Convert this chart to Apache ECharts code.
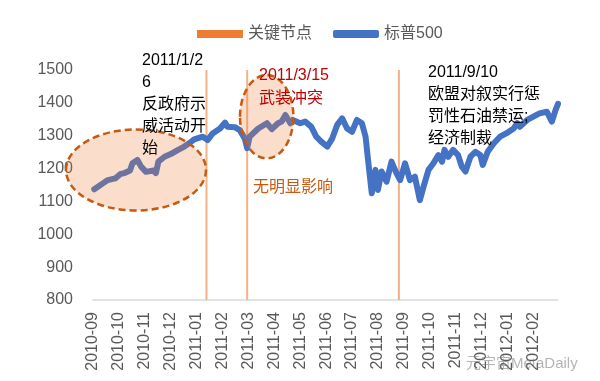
<!DOCTYPE html>
<html>
<head>
<meta charset="utf-8">
<script src="https://cdn.jsdelivr.net/npm/echarts@6/dist/echarts.min.js"></script>
<style>html,body{margin:0;padding:0;background:#fff}#c{width:600px;height:381px}</style>
</head>
<body>
<div id="c"></div>
<script>
// tick labels (one every 21 trading days)
const monthLabels = ['2010-09','2010-10','2010-11','2010-12','2011-01','2011-02','2011-03','2011-04','2011-05','2011-06','2011-07','2011-08','2011-09','2011-10','2011-11','2011-12','2012-01','2012-02'];
const labelStep = 21;
const lastDay = 377;
// S&P 500 (trading-day index, close)
const tradingDay = [1,8,12,18,22,26,30,32,36,39,43,49,51,53,58,63,69,74,78,82,89,93,97,103,107,109,115,119,123,125,127,134,141,145,150,153,156,160,162,168,172,177,181,185,190,194,198,202,206,210,214,218,221,223,226,229,231,234,238,242,246,249,253,257,261,265,268,272,276,280,283,285,288,292,296,299,302,306,310,314,316,320,325,330,335,341,344,346,352,357,362,368,372,375,377];
const spx = [1137,1155,1165,1170,1183,1187,1194,1216,1226,1206,1190,1194,1186,1221,1236,1244,1257,1267,1277,1289,1297,1287,1307,1322,1340,1327,1326,1317,1292,1262,1297,1322,1338,1320,1338,1343,1363,1338,1348,1338,1343,1327,1297,1282,1267,1292,1333,1353,1322,1312,1348,1338,1297,1226,1125,1196,1135,1191,1160,1221,1186,1165,1216,1165,1175,1104,1145,1196,1216,1241,1221,1257,1236,1257,1241,1206,1191,1236,1251,1241,1211,1251,1277,1297,1307,1322,1338,1327,1348,1358,1368,1373,1343,1378,1397];
// key events (vertical markers)
const eventDay = [92,125,248];
const eventValue = [1500,1500,1500];

const FONT = "'Liberation Sans','Noto Sans CJK SC',sans-serif";
const chart = echarts.init(document.getElementById('c'));
chart.setOption({
  animation:false,
  backgroundColor:'#fff',
  textStyle:{fontFamily:FONT},
  legend:{
    left:192, top:21, itemWidth:46, itemHeight:8, itemGap:21,
    textStyle:{fontSize:16,color:'#595959',fontFamily:FONT},
    data:[
      {name:'关键节点', icon:'rect', itemStyle:{color:'#ED7D31'}},
      {name:'标普500', icon:'roundRect', itemStyle:{color:'#4472C4'}}
    ]
  },
  grid:{left:93,right:42,top:70,bottom:81},
  xAxis:{
    type:'value', min:0, max:lastDay, interval:labelStep,
    splitLine:{show:false}, axisTick:{show:false},
    axisLine:{lineStyle:{color:'#D9D9D9',width:1.5}},
    axisLabel:{rotate:90, margin:12, fontSize:16, color:'#595959', fontFamily:FONT,
      showMaxLabel:false,
      formatter:function(v){const i=v/labelStep; return Number.isInteger(i)&&monthLabels[i]?monthLabels[i]:'';}}
  },
  yAxis:{
    type:'value', min:800, max:1500, interval:100,
    splitLine:{show:false}, axisLine:{show:false}, axisTick:{show:false},
    axisLabel:{fontSize:16,color:'#595959',margin:20,fontFamily:FONT,
      formatter:function(v){return String(v);}}
  },
  series:[
    {name:'关键节点', type:'bar', barWidth:2, z:1,
     itemStyle:{color:'#F4B183'},
     data:eventDay.map((d,i)=>[d,eventValue[i]])},
    {name:'标普500', type:'line', symbol:'none', showSymbol:false, z:3,
     lineStyle:{color:'#4472C4',width:6,cap:'round',join:'round'},
     itemStyle:{color:'#4472C4'},
     data:tradingDay.map((d,i)=>[d,spx[i]])}
  ],
  graphic:[
    {type:'ellipse', z:100, shape:{cx:136,cy:170,rx:70,ry:40.5},
     style:{fill:'rgba(237,125,49,0.25)',stroke:'#C55A11',lineWidth:2.5,lineDash:[7,4]}},
    {type:'ellipse', z:100, shape:{cx:266.7,cy:116.7,rx:26.7,ry:41.7},
     style:{fill:'rgba(237,125,49,0.25)',stroke:'#C55A11',lineWidth:2.5,lineDash:[7,4]}},
    {type:'text', z:101, style:{x:142,y:50,text:'2011/1/2\n6\n反政府示\n威活动开\n始',fill:'#000',fontSize:16,fontFamily:FONT,lineHeight:22,verticalAlign:'top'}},
    {type:'text', z:101, style:{x:259,y:64,text:'2011/3/15\n武装冲突',fill:'#C00000',fontSize:16,fontFamily:FONT,lineHeight:23,verticalAlign:'top'}},
    {type:'text', z:101, style:{x:253,y:177,text:'无明显影响',fill:'#C55A11',fontSize:16,fontFamily:FONT,lineHeight:22,verticalAlign:'top'}},
    {type:'text', z:101, style:{x:428,y:62,text:'2011/9/10\n欧盟对叙实行惩\n罚性石油禁运;\n经济制裁',fill:'#000',fontSize:16,fontFamily:FONT,lineHeight:22,verticalAlign:'top'}},
    {type:'text', z:101, style:{x:466,y:356,text:'元宇宙MetaDaily',fill:'rgba(120,120,120,0.55)',fontSize:15,fontFamily:FONT,verticalAlign:'top'}}
  ]
});
</script>
</body>
</html>
